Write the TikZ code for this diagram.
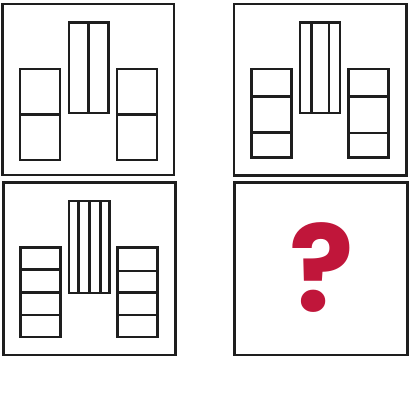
\documentclass[tikz,border=0pt]{standalone}
\usepackage{fontspec}
\newfontfamily\qfont{Poppins}
\definecolor{qred}{HTML}{C0163A}
\definecolor{boxline}{HTML}{1E1E1E}
\begin{document}
\begin{tikzpicture}[x=1pt,y=-1pt,line width=2.4pt,draw=boxline]
		\useasboundingbox (0,0) rectangle (410,410);
		% top left
		\draw (2.5,4) rectangle (174,175);
		\draw (69,22.5) rectangle (108.5,113);
		\draw (88.5,22.5) -- ++(0,90.5);
		\draw (20,69) rectangle (60,160);
		\draw (20,114.5) -- ++(40,0);
		\draw (117,69) rectangle (157,160);
		\draw (117,114.5) -- ++(40,0);
		
		% top right
		\draw (234,4) rectangle (406.5,175.5);
		\draw (300,22.5) rectangle (340,113);
		\foreach \x in {311.5,329} \draw (\x,22.5) -- ++(0,90.5);
		\draw (251.5,69) rectangle (291.5,157.5);
		\foreach \y in {96.5,132.5} \draw (251.5,\y) -- ++(40,0);
		\draw (348.5,69) rectangle (388.5,157.5);
		\foreach \y in {96.5,133} \draw (348.5,\y) -- ++(40,0);
		
		% bottom left
		\draw (3.5,182.5) rectangle (175.5,355);
		\draw (69,201) rectangle (109.5,293);
		\foreach \x in {78.5,89.5,100.5} \draw (\x,201) -- ++(0,92);
		\draw (20.5,247.5) rectangle (60.5,337);
		\foreach \y in {269.5,292.5,315} \draw (20.5,\y) -- ++(40,0);
		\draw (117.5,247.5) rectangle (157.5,337);
		\foreach \y in {271,292.5,315} \draw (117.5,\y) -- ++(40,0);
		
		% bottom right
		\draw (234.5,182.5) rectangle (407.5,355);
		\node[text=qred,font=\qfont\bfseries\fontsize{120}{120}\selectfont] (q) at (322,268) {?};
	\end{tikzpicture}
\end{document}
